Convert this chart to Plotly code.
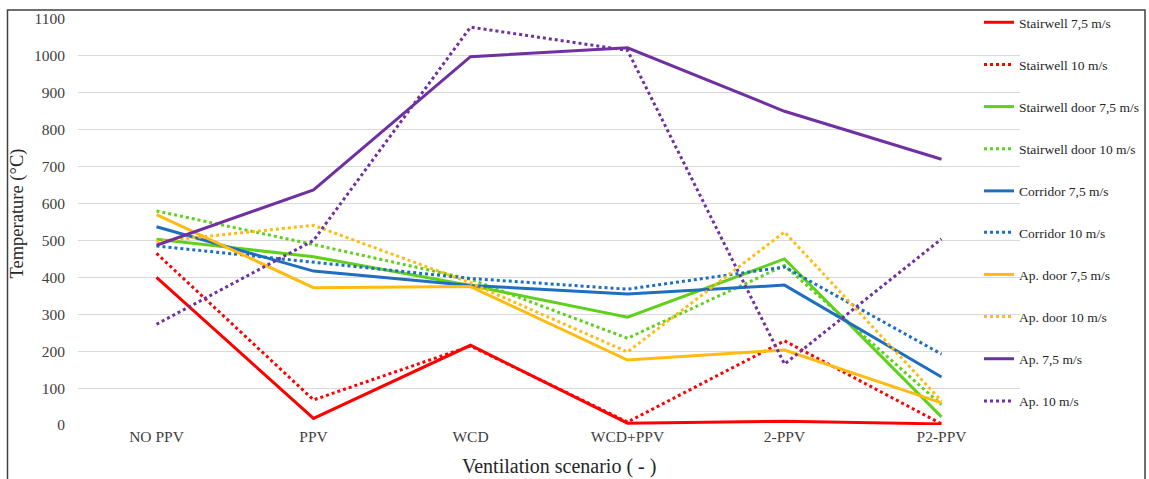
import plotly.graph_objects as go

scenarios = ["NO PPV", "PPV", "WCD", "WCD+PPV", "2-PPV", "P2-PPV"]

stairwell_75 = [400, 18, 216, 5, 10, 3]
stairwell_10 = [465, 68, 214, 8, 228, 3]
stairwell_door_75 = [503, 456, 378, 292, 450, 22]
stairwell_door_10 = [580, 489, 395, 235, 432, 55]
corridor_75 = [537, 417, 378, 355, 379, 130]
corridor_10 = [485, 442, 397, 368, 428, 192]
ap_door_75 = [570, 372, 375, 176, 203, 60]
ap_door_10 = [497, 541, 385, 198, 523, 65]
ap_75 = [487, 637, 998, 1022, 850, 720]
ap_10 = [273, 500, 1078, 1015, 165, 504]

series = [
    ("Stairwell 7,5 m/s", stairwell_75, "#FF0000", "solid"),
    ("Stairwell 10 m/s", stairwell_10, "#FF0000", "dot"),
    ("Stairwell door 7,5 m/s", stairwell_door_75, "#5FD11C", "solid"),
    ("Stairwell door 10 m/s", stairwell_door_10, "#5FD11C", "dot"),
    ("Corridor 7,5 m/s", corridor_75, "#1F6FC0", "solid"),
    ("Corridor 10 m/s", corridor_10, "#1F6FC0", "dot"),
    ("Ap. door 7,5 m/s", ap_door_75, "#FFBB10", "solid"),
    ("Ap. door 10 m/s", ap_door_10, "#FFBB10", "dot"),
    ("Ap. 7,5 m/s", ap_75, "#7030A0", "solid"),
    ("Ap. 10 m/s", ap_10, "#7030A0", "dot"),
]

fig = go.Figure()
for i, (name, vals, color, dash) in enumerate(series):
    fig.add_trace(go.Scatter(
        x=scenarios, y=vals, name=name, mode="lines",
        line=dict(color=color, width=3, dash=dash),
        legendgroup=f"g{i}",
        legend="legend" if i < 5 else "legend2",
    ))

font_family = "Liberation Serif, Times New Roman, serif"
legend_common = dict(
    xanchor="left", yanchor="top", yref="container",
    bgcolor="rgba(0,0,0,0)", borderwidth=0,
    font=dict(family=font_family, size=13.5, color="#262626"),
    tracegroupgap=21.6, itemwidth=30,
)

fig.update_layout(
    width=1149, height=479,
    margin=dict(l=78, r=129, t=19, b=54, autoexpand=False),
    paper_bgcolor="white", plot_bgcolor="white",
    font=dict(family=font_family, color="#404040", size=15),
    showlegend=True,
    legend=dict(x=(979 - 78) / 942, y=1 - 7 / 479, **legend_common),
    legend2=dict(x=(979 - 78) / 942, y=1 - 217 / 479, **legend_common),
    xaxis=dict(
        type="category", range=[-0.5, 5.5], showgrid=False, zeroline=False,
        showline=False, ticks="",
        tickfont=dict(size=15.5, color="#404040"),
    ),
    yaxis=dict(
        range=[0, 1100], dtick=100, showgrid=True, gridcolor="#D9D9D9", gridwidth=1,
        zeroline=False, showline=False, ticks="", ticklabelstandoff=12,
        tickfont=dict(size=15.5, color="#404040"),
    ),
    annotations=[
        dict(text="Ventilation scenario ( - )", xref="paper", yref="paper",
             x=(559 - 78) / 942, y=(425 - 466) / 406, xanchor="center", yanchor="middle",
             showarrow=False, font=dict(size=20, color="#262626")),
        dict(text="Temperature (°C)", xref="paper", yref="paper", textangle=-90,
             x=(16.5 - 78) / 942, y=(425 - 214) / 406, xanchor="center", yanchor="middle",
             showarrow=False, font=dict(size=18.5, color="#262626")),
    ],
    shapes=[
        dict(type="rect", xref="paper", yref="paper",
             x0=(7.5 - 78) / 942, x1=(1145 - 78) / 942,
             y0=(425 - 500) / 406, y1=(425 - 10) / 406,
             line=dict(color="#404040", width=1.5), fillcolor="rgba(0,0,0,0)", layer="below"),
    ],
)

fig.write_html("out.html", config={"displayModeBar": False},
               post_script="document.body.style.margin='0';document.body.style.overflow='hidden';")
